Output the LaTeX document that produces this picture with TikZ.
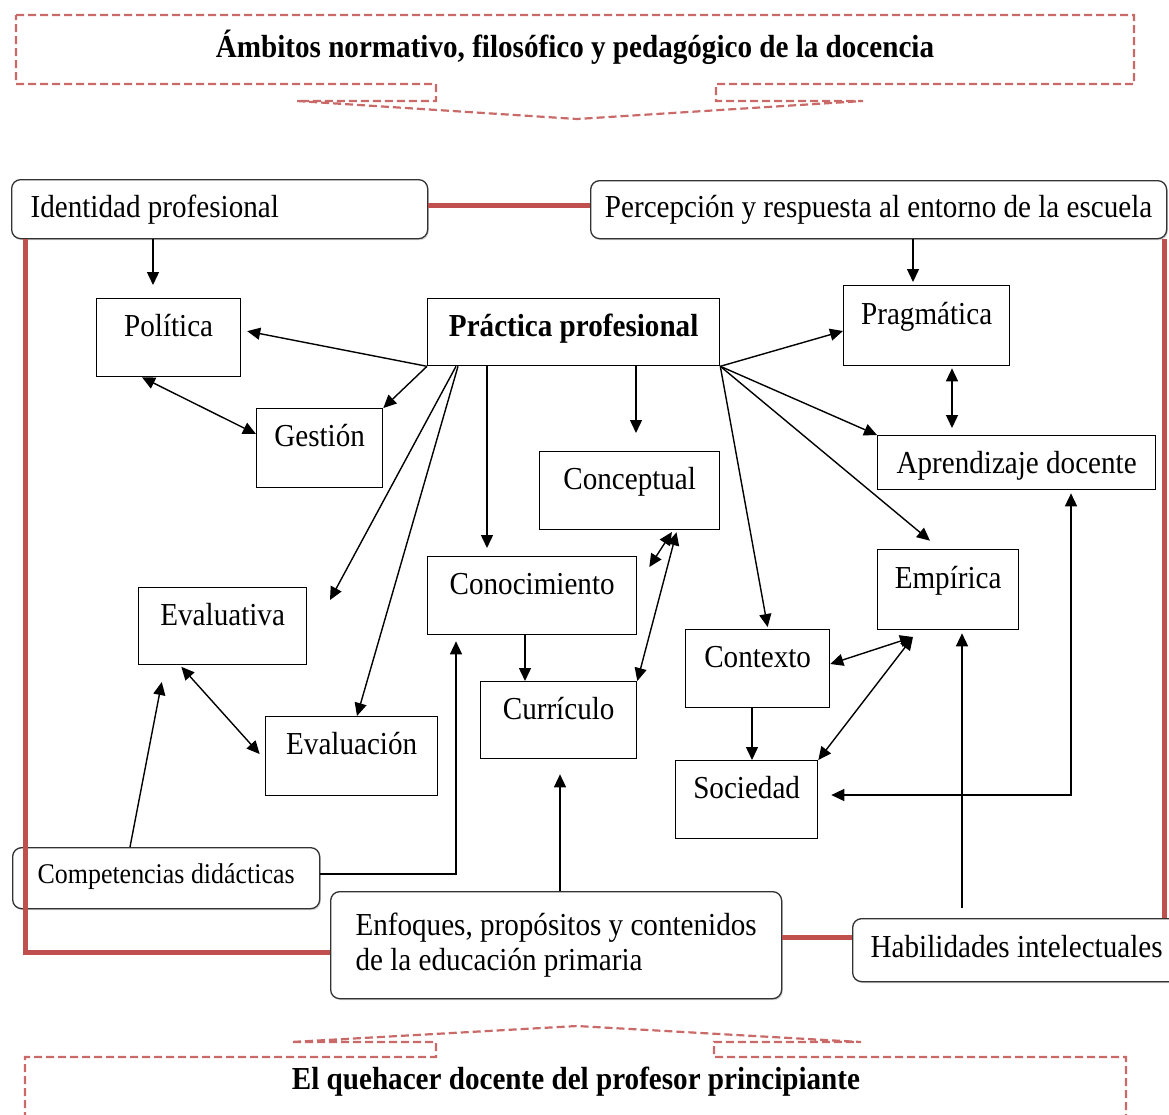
\documentclass[tikz,border=0pt]{standalone}
\usepackage{fontspec}
\setmainfont{Liberation Serif}[FakeStretch=0.91]
\usetikzlibrary{arrows.meta,shadows}
\definecolor{rojo}{RGB}{192,80,77}

\begin{document}
\begin{tikzpicture}[x=1pt, y=-1pt,
  font=\fontsize{32}{35}\selectfont,
  caja/.style={draw, fill=white, line width=1.3pt, inner sep=0pt, anchor=north west,
    minimum width=#1, text height=38pt, text depth=40pt},
  redondo/.style={draw=black!80, fill=white, line width=1.3pt, rounded corners=9pt,
    anchor=north west, inner ysep=0pt,
    drop shadow={shadow xshift=1.2pt, shadow yshift=-1.5pt, opacity=0.35}},
  flecha/.style={-{Triangle[length=13pt,width=12pt]}, line width=1.4pt},
  doble/.style={{Triangle[length=13pt,width=12pt]}-{Triangle[length=13pt,width=12pt]}, line width=1.4pt},
  enlace/.style={rojo, line width=5pt},
  aviso/.style={rojo!85, line width=2.2pt, dash pattern=on 8pt off 4pt}]

\useasboundingbox (0,0) rectangle (1169,1114);
\clip (0,0) rectangle (1169,1114);

% Banners
\draw[aviso] (16,15) -- (1134,15) -- (1134,84) -- (716,84) -- (716,101) -- (863,101)
  -- (577,119) -- (297,101) -- (436,101) -- (436,84) -- (16,84) -- cycle;
\node (ambitos) at (575,47) {\bfseries Ámbitos normativo, filosófico y pedagógico de la docencia};
\draw[aviso] (25,1120) -- (25,1057) -- (436,1057) -- (436,1042) -- (291,1042) -- (577,1026)
  -- (861,1042) -- (714,1042) -- (714,1057) -- (1126,1057) -- (1126,1120);
\node (quehacer) at (576,1082) {\bfseries El quehacer docente del profesor principiante};

% Cuadros del marco
\node[redondo, text width=378pt, align=flush left, inner xsep=19pt, text height=38pt, text depth=21pt]
  (identidad) at (11,179) {Identidad profesional};
\node[redondo, minimum width=576pt, text height=37pt, text depth=21pt]
  (percepcion) at (590,180) {Percepción y respuesta al entorno de la escuela};
\node[redondo, minimum width=307pt, text height=36pt, text depth=25pt, font=\fontsize{28.5}{32}\selectfont]
  (competencias) at (12,847) {Competencias didácticas};
\node[redondo, minimum width=451pt, minimum height=107pt, align=left]
  (enfoques) at (330,891) {Enfoques, propósitos y contenidos\\de la educación primaria};
\node[redondo, minimum width=328pt, text height=39pt, text depth=24pt]
  (habilidades) at (852,918) {Habilidades intelectuales};

% Cuadros interiores
\node[caja=144pt, text depth=40pt] (politica) at (96,298) {Política};
\node[caja=292pt, text depth=29pt] (practica) at (427,298) {\bfseries Práctica profesional};
\node[caja=166pt, text height=39pt, text depth=41pt] (pragmatica) at (843,285) {Pragmática};
\node[caja=126pt, text depth=41pt] (gestion) at (256,408) {Gestión};
\node[caja=278pt, text depth=16pt] (aprendizaje) at (877,435) {Aprendizaje docente};
\node[caja=180pt] (conceptual) at (539,451) {Conceptual};
\node[caja=209pt] (conocimiento) at (427,556) {Conocimiento};
\node[caja=141pt, text height=39pt, text depth=41pt] (empirica) at (877,549) {Empírica};
\node[caja=168pt, text depth=39pt] (evaluativa) at (138,587) {Evaluativa};
\node[caja=144pt] (contexto) at (685,629) {Contexto};
\node[caja=156pt, text depth=39pt] (curriculo) at (480,681) {Currículo};
\node[caja=172pt, text depth=41pt] (evaluacion) at (265,716) {Evaluación};
\node[caja=142pt] (sociedad) at (675,760) {Sociedad};

% Enlaces del marco
\draw[enlace] (identidad.east |- 0,205) -- (percepcion.west |- 0,205);
\draw[enlace] (identidad.south -| 25,0) |- (enfoques.west |- 0,952);
\draw[enlace] (enfoques.east |- 0,937) -- (habilidades.west |- 0,937);
\draw[enlace] (percepcion.south -| 1164,0) -- (habilidades.north -| 1164,0);

% Flechas
\coordinate (libre) at (330,600);
\coordinate (cruce) at (913,637);
\draw[flecha, shorten >=13pt] (identidad.south -| 153,0) -- (politica.north -| 153,0);
\draw[flecha, shorten >=6pt] (practica.south west) -- (politica.east |- 0,330);
\draw[flecha] (practica.south west) -- (gestion.north east);
\draw[doble] (politica.south -| 142,0) -- (gestion.west |- 0,434);
\draw[flecha] (practica.south -| 456,0) -- (libre);
\draw[flecha] (practica.south -| 458,0) -- (evaluacion.north -| 357,0);
\draw[flecha, shorten >=8pt] (practica.south -| 487,0) -- (conocimiento.north -| 487,0);
\draw[flecha, shorten >=18pt] (practica.south -| 636,0) -- (conceptual.north -| 636,0);
\draw[doble, shorten <=2pt] (conceptual.south -| 673,0) -- ([xshift=12pt,yshift=-11pt]conocimiento.north east);
\draw[doble, shorten <=2pt] (conceptual.south -| 677,0) -- (curriculo.north east);
\draw[flecha] (conocimiento.south -| 525,0) -- (curriculo.north -| 525,0);
\draw[flecha, shorten >=6pt] (competencias.east |- 0,874) -| (conocimiento.south -| 456,0);
\draw[flecha, shorten >=15pt] (enfoques.north -| 560,0) -- (curriculo.south -| 560,0);
\draw[flecha, shorten >=17pt] (competencias.north -| 130,0) -- (evaluativa.south -| 165,0);
\draw[doble, shorten >=8pt, shorten <=2pt] (evaluativa.south -| 180,0) -- (evaluacion.west |- 0,760);
\draw[flecha] (practica.south east) -- (pragmatica.west |- 0,331);
\draw[flecha, shorten >=3pt] (percepcion.south -| 913,0) -- (pragmatica.north -| 913,0);
\draw[doble, shorten <=2pt, shorten >=7pt] (pragmatica.south -| 952,0) -- (aprendizaje.north -| 952,0);
\draw[flecha] (practica.south east) -- (aprendizaje.north west);
\draw[flecha, shorten >=13pt] (practica.south east) -- (empirica.north -| 940,0);
\draw[flecha, shorten >=2pt] (practica.south east) -- (contexto.north -| 768,0);
\draw[doble] (contexto.east |- 0,664) -- (cruce);
\draw[doble] (sociedad.north east) -- (cruce);
\draw[flecha] (contexto.south -| 752,0) -- (sociedad.north -| 752,0);
\draw[doble, shorten <=3pt, shorten >=13pt] (aprendizaje.south -| 1071,0) |- (sociedad.east |- 0,795);
\draw[flecha, shorten <=10pt, shorten >=3pt] (habilidades.north -| 962,0) -- (empirica.south -| 962,0);
\end{tikzpicture}
\end{document}
